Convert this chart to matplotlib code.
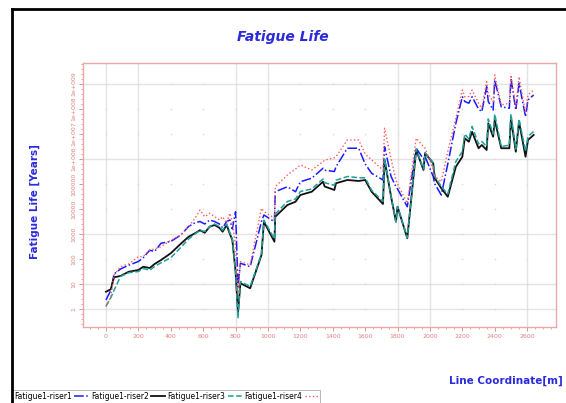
import numpy as np
import matplotlib.pyplot as plt
from matplotlib.lines import Line2D
from matplotlib.ticker import FixedLocator, FixedFormatter

# line coordinate [m]
coord = [0, 30, 50, 90, 140, 200, 230, 270, 300, 340, 400, 460, 510, 550, 580, 610,
         640, 670, 700, 720, 745, 765, 780, 800, 815, 830, 890, 960, 975, 1040, 1045,
         1120, 1170, 1200, 1270, 1340, 1350, 1410, 1420, 1490, 1560, 1600, 1640, 1710,
         1720, 1760, 1790, 1800, 1860, 1915, 1960, 1970, 2020, 2030, 2070, 2110, 2160,
         2200, 2215, 2240, 2260, 2300, 2320, 2350, 2360, 2390, 2400, 2440, 2490, 2500,
         2530, 2550, 2590, 2605, 2640]

# fatigue life, read as log10(years)
riser1 = [0.36, 0.75, 1.40, 1.60, 1.75, 1.90, 2.05, 2.35, 2.30, 2.63, 2.70, 2.95, 3.30, 3.45,
          3.50, 3.40, 3.56, 3.50, 3.40, 3.25, 3.50, 3.56, 3.20, 3.89, 0.90, 1.83, 1.69, 3.50,
          3.76, 3.49, 4.69, 4.89, 4.69, 5.09, 5.23, 5.63, 5.55, 5.50, 5.69, 6.43, 6.43, 5.80,
          5.43, 5.16, 6.49, 5.30, 4.89, 4.80, 4.09, 6.43, 6.00, 6.10, 5.30, 5.00, 4.56, 5.80,
          7.43, 8.49, 8.30, 8.23, 8.49, 8.00, 7.89, 8.89, 8.30, 7.96, 9.16, 8.09, 8.03, 9.23,
          7.96, 9.03, 7.69, 8.36, 8.56]
riser2 = [0.69, 0.79, 1.27, 1.32, 1.49, 1.56, 1.69, 1.64, 1.80, 1.96, 2.23, 2.60, 2.89, 3.03,
          3.15, 3.05, 3.29, 3.36, 3.25, 3.09, 3.36, 3.00, 2.76, 1.50, -0.15, 1.03, 0.83, 2.16,
          3.49, 2.69, 3.69, 4.16, 4.29, 4.56, 4.69, 5.09, 4.90, 4.76, 5.03, 5.16, 5.12, 5.16,
          4.69, 4.20, 5.96, 4.49, 3.49, 4.09, 2.83, 6.36, 5.56, 6.23, 5.83, 5.23, 4.83, 4.49,
          5.69, 6.09, 6.83, 6.69, 7.09, 6.43, 6.56, 6.36, 7.43, 6.89, 7.56, 6.43, 6.43, 7.63,
          6.29, 7.49, 6.09, 6.76, 6.96]
riser3 = [0.12, 0.45, 0.75, 1.30, 1.45, 1.50, 1.62, 1.55, 1.70, 1.85, 2.05, 2.45, 2.80, 3.00,
          3.15, 3.10, 3.30, 3.40, 3.30, 3.15, 3.40, 3.05, 2.80, 1.50, -0.35, 1.10, 0.90, 2.20,
          3.55, 2.80, 3.80, 4.30, 4.40, 4.70, 4.80, 5.20, 5.05, 4.95, 5.15, 5.30, 5.25, 5.25,
          4.75, 4.30, 6.00, 4.50, 3.50, 4.10, 2.85, 6.40, 5.60, 6.25, 5.85, 5.30, 4.90, 4.60,
          5.90, 6.30, 7.00, 6.80, 7.30, 6.60, 6.70, 6.50, 7.60, 7.00, 7.80, 6.50, 6.55, 7.80,
          6.40, 7.60, 6.30, 6.90, 7.10]
riser4 = [0.09, 0.49, 1.36, 1.69, 1.80, 2.09, 2.10, 2.36, 2.40, 2.49, 2.75, 2.95, 3.29, 3.63,
          3.96, 3.69, 3.83, 3.70, 3.56, 3.69, 3.43, 3.83, 3.50, 2.50, 0.63, 1.89, 1.76, 4.03,
          3.90, 3.63, 4.89, 5.36, 5.60, 5.76, 5.56, 5.89, 5.95, 6.05, 6.09, 6.76, 6.76, 6.20,
          5.96, 5.56, 7.23, 6.00, 5.16, 5.00, 4.23, 6.83, 6.50, 6.43, 5.60, 5.30, 5.09, 6.30,
          7.63, 8.76, 8.49, 8.50, 8.76, 8.23, 8.03, 9.09, 8.60, 8.29, 9.36, 8.16, 8.23, 9.36,
          8.09, 9.29, 7.83, 8.56, 8.76]

names = ["Fatigue1-riser1", "Fatigue1-riser2", "Fatigue1-riser3", "Fatigue1-riser4"]
ytick_labels = ["1", "10", "100", "1000", "10000", "100000",
                "1e+006", "1e+007", "1e+008", "1e+009"]
xticks = [0, 200, 400, 600, 800, 1000, 1200, 1400, 1600, 1800, 2000, 2200, 2400, 2600]

axis_red = '#e08080'
text_blue = '#2b2bdc'

fig = plt.figure(figsize=(5.66, 4.03), dpi=100)
ax = fig.add_axes([0.1466, 0.1886, 0.9823 - 0.1466, 0.8437 - 0.1886])

ax.set_yscale('log')
ax.set_xlim(-142, 2778)
ax.set_ylim(10 ** -0.72, 10 ** 9.84)

# solid grid on a few ticks, faint dots elsewhere
solid_x = [0, 200, 800, 1000, 1800, 2000, 2600]
solid_y = [1, 10, 1e3, 1e6, 1e9]
yticks = [10.0 ** i for i in range(10)]
for xv in solid_x:
    ax.axvline(xv, color='#e4e4e4', lw=1.0, zorder=0)
for yv in solid_y:
    ax.axhline(yv, color='#e4e4e4', lw=1.0, zorder=0)
gx, gy = np.meshgrid(xticks, yticks)
ax.scatter(gx.ravel(), gy.ravel(), s=1.5, color='#dddddd', zorder=0, linewidths=0)

x = np.array(coord)
ax.plot(x, 10 ** np.array(riser1), color='#1a1aff', ls='-.', lw=1.1, label=names[0])
ax.plot(x, 10 ** np.array(riser2), color='#111111', ls='-', lw=1.3, label=names[1])
ax.plot(x, 10 ** np.array(riser3), color='#1f9e9a', ls='--', lw=1.1, label=names[2])
ax.plot(x, 10 ** np.array(riser4), color='#ff5a5a', ls=':', lw=1.0, label=names[3])

ax.yaxis.set_major_locator(FixedLocator(yticks))
ax.yaxis.set_major_formatter(FixedFormatter(ytick_labels))
minor_y = [10.0 ** (i + f) for i in range(-1, 10) for f in (0.2, 0.4, 0.6, 0.8)]
ax.yaxis.set_minor_locator(FixedLocator(minor_y))
ax.yaxis.set_minor_formatter(FixedFormatter([]))
ax.set_xticks(xticks)
ax.set_xticks(np.arange(-100, 2800, 50), minor=True)

for lab in ax.get_yticklabels():
    lab.set_rotation(90)
    lab.set_va('center')
ax.tick_params(axis='both', which='major', colors=axis_red, labelsize=4.5,
               length=3, width=0.6, pad=2)
ax.tick_params(axis='both', which='minor', colors=axis_red, length=1.5, width=0.5)
for sp in ax.spines.values():
    sp.set_color('#eaa8a8')
    sp.set_linewidth(1.0)

fig.text(0.5, 0.908, "Fatigue Life", ha='center', va='center', color=text_blue,
         fontsize=10, fontweight='bold', fontstyle='italic')
fig.text(0.062, 0.5, "Fatigue Life [Years]", ha='center', va='center', rotation=90,
         color=text_blue, fontsize=7.5, fontweight='bold')
fig.text(0.894, 0.055, "Line Coordinate[m]", ha='center', va='center', color=text_blue,
         fontsize=7.5, fontweight='bold')

# outer frame
fig.add_artist(Line2D([12 / 566, 12 / 566], [0, 1 - 9 / 403], color='black', lw=2,
                      transform=fig.transFigure))
fig.add_artist(Line2D([12 / 566, 1], [1 - 9 / 403, 1 - 9 / 403], color='black', lw=2,
                      transform=fig.transFigure))

leg = ax.legend(loc='lower left', bbox_to_anchor=(12 / 566, 0.0),
                bbox_transform=fig.transFigure, ncol=4, markerfirst=False,
                fontsize=5.5, frameon=True, fancybox=False, handlelength=1.8,
                handletextpad=0.3, columnspacing=0.4, borderpad=0.25, borderaxespad=0)
leg.get_frame().set_edgecolor('#999999')
leg.get_frame().set_linewidth(0.6)

fig.savefig("out.png", dpi=100)
